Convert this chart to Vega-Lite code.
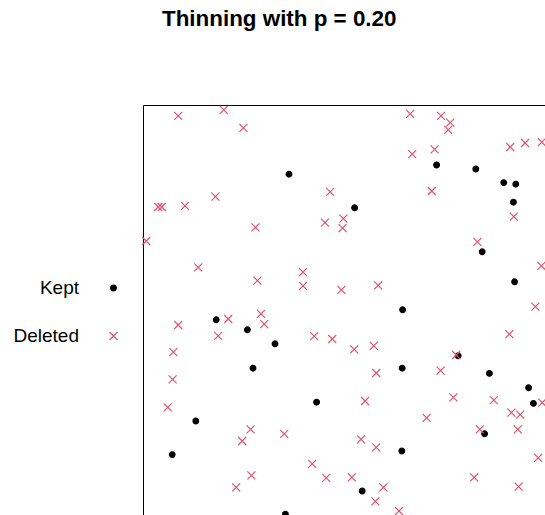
{
  "$schema": "https://vega.github.io/schema/vega-lite/v6.json",
  "width": 402,
  "height": 410,
  "autosize": "none",
  "padding": {"left": 143, "top": 105, "right": 0, "bottom": 0},
  "background": "white",
  "title": {"text": "Thinning with p = 0.20", "anchor": "start", "dx": 58, "offset": 55, "baseline": "alphabetic", "font": "Liberation Sans", "fontSize": 22.4, "fontWeight": "bold", "color": "black"},
  "config": {"view": {"stroke": null}},
  "data": {"values": [
    {"x": 0.365, "y": 0.827, "status": "Kept"},
    {"x": 0.529, "y": 0.743, "status": "Kept"},
    {"x": 0.734, "y": 0.850, "status": "Kept"},
    {"x": 0.832, "y": 0.840, "status": "Kept"},
    {"x": 0.902, "y": 0.806, "status": "Kept"},
    {"x": 0.932, "y": 0.802, "status": "Kept"},
    {"x": 0.926, "y": 0.757, "status": "Kept"},
    {"x": 0.848, "y": 0.633, "status": "Kept"},
    {"x": 0.929, "y": 0.558, "status": "Kept"},
    {"x": 0.649, "y": 0.488, "status": "Kept"},
    {"x": 0.183, "y": 0.463, "status": "Kept"},
    {"x": 0.261, "y": 0.438, "status": "Kept"},
    {"x": 0.330, "y": 0.403, "status": "Kept"},
    {"x": 0.275, "y": 0.342, "status": "Kept"},
    {"x": 0.648, "y": 0.342, "status": "Kept"},
    {"x": 0.788, "y": 0.373, "status": "Kept"},
    {"x": 0.866, "y": 0.329, "status": "Kept"},
    {"x": 0.964, "y": 0.293, "status": "Kept"},
    {"x": 0.976, "y": 0.254, "status": "Kept"},
    {"x": 0.434, "y": 0.257, "status": "Kept"},
    {"x": 0.132, "y": 0.210, "status": "Kept"},
    {"x": 0.854, "y": 0.178, "status": "Kept"},
    {"x": 0.647, "y": 0.135, "status": "Kept"},
    {"x": 0.073, "y": 0.126, "status": "Kept"},
    {"x": 0.548, "y": 0.035, "status": "Kept"},
    {"x": 0.356, "y": -0.023, "status": "Kept"},
    {"x": 0.088, "y": 0.973, "status": "Deleted"},
    {"x": 0.202, "y": 0.988, "status": "Deleted"},
    {"x": 0.251, "y": 0.943, "status": "Deleted"},
    {"x": 0.468, "y": 0.783, "status": "Deleted"},
    {"x": 0.038, "y": 0.745, "status": "Deleted"},
    {"x": 0.047, "y": 0.745, "status": "Deleted"},
    {"x": 0.105, "y": 0.748, "status": "Deleted"},
    {"x": 0.181, "y": 0.771, "status": "Deleted"},
    {"x": 0.281, "y": 0.694, "status": "Deleted"},
    {"x": 0.455, "y": 0.706, "status": "Deleted"},
    {"x": 0.501, "y": 0.716, "status": "Deleted"},
    {"x": 0.499, "y": 0.692, "status": "Deleted"},
    {"x": 0.008, "y": 0.660, "status": "Deleted"},
    {"x": 0.668, "y": 0.978, "status": "Deleted"},
    {"x": 0.745, "y": 0.973, "status": "Deleted"},
    {"x": 0.768, "y": 0.956, "status": "Deleted"},
    {"x": 0.763, "y": 0.938, "status": "Deleted"},
    {"x": 0.918, "y": 0.895, "status": "Deleted"},
    {"x": 0.955, "y": 0.905, "status": "Deleted"},
    {"x": 0.997, "y": 0.907, "status": "Deleted"},
    {"x": 0.673, "y": 0.877, "status": "Deleted"},
    {"x": 0.729, "y": 0.889, "status": "Deleted"},
    {"x": 0.722, "y": 0.785, "status": "Deleted"},
    {"x": 0.927, "y": 0.721, "status": "Deleted"},
    {"x": 0.836, "y": 0.658, "status": "Deleted"},
    {"x": 0.138, "y": 0.594, "status": "Deleted"},
    {"x": 0.286, "y": 0.561, "status": "Deleted"},
    {"x": 0.400, "y": 0.582, "status": "Deleted"},
    {"x": 0.400, "y": 0.548, "status": "Deleted"},
    {"x": 0.496, "y": 0.538, "status": "Deleted"},
    {"x": 0.213, "y": 0.465, "status": "Deleted"},
    {"x": 0.088, "y": 0.450, "status": "Deleted"},
    {"x": 0.188, "y": 0.423, "status": "Deleted"},
    {"x": 0.295, "y": 0.478, "status": "Deleted"},
    {"x": 0.303, "y": 0.452, "status": "Deleted"},
    {"x": 0.428, "y": 0.422, "status": "Deleted"},
    {"x": 0.473, "y": 0.415, "status": "Deleted"},
    {"x": 0.076, "y": 0.382, "status": "Deleted"},
    {"x": 0.996, "y": 0.598, "status": "Deleted"},
    {"x": 0.588, "y": 0.549, "status": "Deleted"},
    {"x": 0.981, "y": 0.496, "status": "Deleted"},
    {"x": 0.916, "y": 0.427, "status": "Deleted"},
    {"x": 0.528, "y": 0.389, "status": "Deleted"},
    {"x": 0.577, "y": 0.398, "status": "Deleted"},
    {"x": 0.783, "y": 0.375, "status": "Deleted"},
    {"x": 0.583, "y": 0.330, "status": "Deleted"},
    {"x": 0.744, "y": 0.336, "status": "Deleted"},
    {"x": 0.074, "y": 0.314, "status": "Deleted"},
    {"x": 0.062, "y": 0.244, "status": "Deleted"},
    {"x": 0.269, "y": 0.189, "status": "Deleted"},
    {"x": 0.248, "y": 0.160, "status": "Deleted"},
    {"x": 0.353, "y": 0.178, "status": "Deleted"},
    {"x": 0.423, "y": 0.103, "status": "Deleted"},
    {"x": 0.271, "y": 0.074, "status": "Deleted"},
    {"x": 0.458, "y": 0.068, "status": "Deleted"},
    {"x": 0.233, "y": 0.044, "status": "Deleted"},
    {"x": 0.998, "y": 0.256, "status": "Deleted"},
    {"x": 0.555, "y": 0.260, "status": "Deleted"},
    {"x": 0.776, "y": 0.269, "status": "Deleted"},
    {"x": 0.877, "y": 0.262, "status": "Deleted"},
    {"x": 0.921, "y": 0.231, "status": "Deleted"},
    {"x": 0.943, "y": 0.226, "status": "Deleted"},
    {"x": 0.709, "y": 0.218, "status": "Deleted"},
    {"x": 0.842, "y": 0.189, "status": "Deleted"},
    {"x": 0.937, "y": 0.189, "status": "Deleted"},
    {"x": 0.545, "y": 0.164, "status": "Deleted"},
    {"x": 0.583, "y": 0.144, "status": "Deleted"},
    {"x": 0.988, "y": 0.118, "status": "Deleted"},
    {"x": 0.522, "y": 0.069, "status": "Deleted"},
    {"x": 0.601, "y": 0.044, "status": "Deleted"},
    {"x": 0.828, "y": 0.069, "status": "Deleted"},
    {"x": 0.939, "y": 0.046, "status": "Deleted"},
    {"x": 0.581, "y": 0.009, "status": "Deleted"},
    {"x": 0.640, "y": -0.015, "status": "Deleted"}
  ]},
  "mark": {"type": "point", "filled": true, "strokeWidth": 1.2, "opacity": 1},
  "encoding": {
    "x": {"field": "x", "type": "quantitative", "scale": {"domain": [0, 1.005], "nice": false, "zero": false},
      "axis": {"orient": "top", "title": null, "labels": false, "ticks": false, "grid": false, "domain": true, "domainColor": "black", "domainWidth": 1, "offset": 0}},
    "y": {"field": "y", "type": "quantitative", "scale": {"domain": [-0.025, 1], "nice": false, "zero": false},
      "axis": {"orient": "left", "title": null, "labels": false, "ticks": false, "grid": false, "domain": true, "domainColor": "black", "domainWidth": 1, "offset": 0}},
    "shape": {"field": "status", "type": "nominal", "scale": {"domain": ["Kept", "Deleted"], "range": ["circle", "M-1,-1L1,1M-1,1L1,-1"]},
      "legend": {"orient": "none", "legendX": -39, "legendY": 173.5, "title": null, "padding": 0, "labelAlign": "right", "labelOffset": -44, "labelFont": "Liberation Sans", "labelFontSize": 19, "labelColor": "black", "rowPadding": 28, "symbolStrokeWidth": 1.2, "symbolOpacity": 1}},
    "color": {"field": "status", "type": "nominal", "scale": {"domain": ["Kept", "Deleted"], "range": ["#000000", "#DF536B"]}},
    "stroke": {"field": "status", "type": "nominal", "scale": {"domain": ["Kept", "Deleted"], "range": ["#000000", "#DF536B"]}},
    "size": {"field": "status", "type": "nominal", "scale": {"domain": ["Kept", "Deleted"], "range": [32, 64]}}
  }
}
